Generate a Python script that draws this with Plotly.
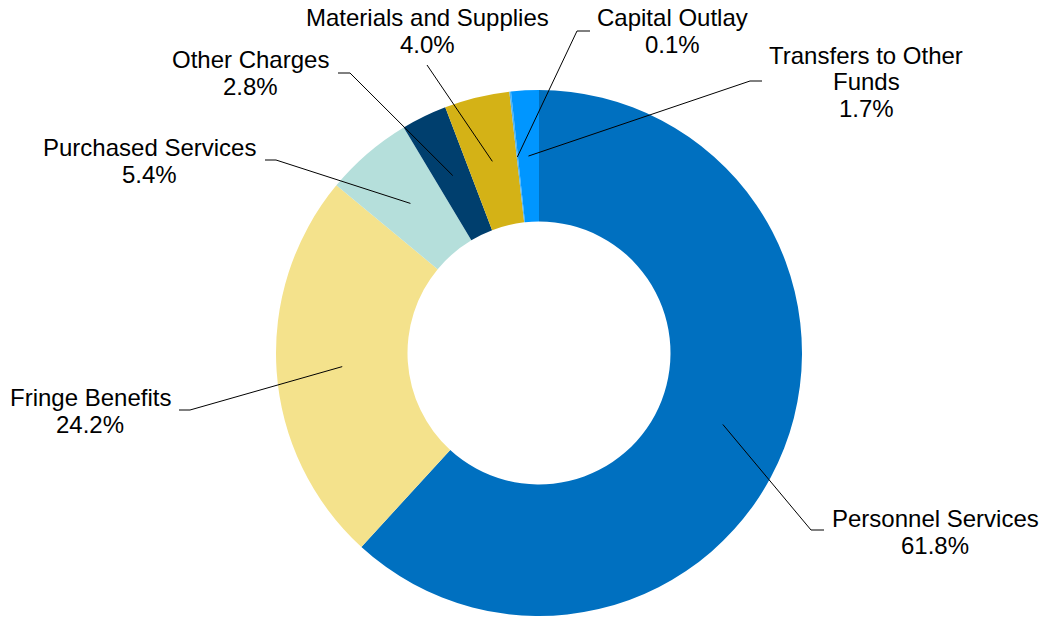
import math
import plotly.graph_objects as go

# Budget share by expenditure category (percent of total)
categories = [
    "Personnel Services",
    "Fringe Benefits",
    "Purchased Services",
    "Other Charges",
    "Materials and Supplies",
    "Capital Outlay",
    "Transfers to Other Funds",
]
shares = [61.8, 24.2, 5.4, 2.8, 4.0, 0.1, 1.7]
colors = ["#0070C0", "#F4E28C", "#B5DFDB", "#003F6E", "#D4B216", "#4FB3F0", "#0096FF"]

# Label text lines (category names wrap where needed)
label_lines = [
    ["Personnel Services"],
    ["Fringe Benefits"],
    ["Purchased Services"],
    ["Other Charges"],
    ["Materials and Supplies"],
    ["Capital Outlay"],
    ["Transfers to Other", "Funds"],
]

W, H = 1042, 618
CX, CY, R = 539, 353, 263
HOLE = 0.5
FONT_SIZE = 24
LINE_STEP = 27

# Label placement (pixel centre x, first-line centre y) and leader-line elbow/end points
label_pos = [(935, 518), (90, 397), (149, 147), (250, 60), (427, 18), (672, 18), (866, 55)]
elbows = [
    [(811, 530), (824, 530)],
    [(190, 410), (179, 410)],
    [(276, 160), (265, 160)],
    [(350, 73), (338, 73)],
    [(427, 65), (427, 65)],
    [(577, 31), (590, 31)],
    [(750, 81), (762, 81)],
]


def px(x):
    return x / W


def py(y):
    return 1 - y / H


fig = go.Figure(
    go.Pie(
        labels=categories,
        values=shares,
        hole=HOLE,
        sort=False,
        direction="clockwise",
        rotation=0,
        marker=dict(colors=colors, line=dict(width=0)),
        textinfo="none",
        hoverinfo="label+percent",
        showlegend=False,
        domain=dict(x=[px(CX - R), px(CX + R)], y=[py(CY + R), py(CY - R)]),
    )
)

shapes = []
annotations = []
total = sum(shares)
cum = 0.0
r_mid = R * (1 + HOLE) / 2
font = dict(family="Liberation Sans, Arial, sans-serif", size=FONT_SIZE, color="black")
for i, v in enumerate(shares):
    mid = (cum + v / 2) / total
    cum += v
    ang = 2 * math.pi * mid  # clockwise from 12 o'clock
    sx = CX + r_mid * math.sin(ang)
    sy = CY - r_mid * math.cos(ang)
    (ex, ey), (fx, fy) = elbows[i]
    path = f"M {px(sx)} {py(sy)} L {px(ex)} {py(ey)} L {px(fx)} {py(fy)}"
    shapes.append(dict(type="path", xref="paper", yref="paper", path=path,
                       line=dict(color="black", width=1)))
    lx, ly = label_pos[i]
    lines = label_lines[i] + [f"{v:.1f}%"]
    for k, txt in enumerate(lines):
        annotations.append(dict(
            x=px(lx), y=py(ly + k * LINE_STEP), xref="paper", yref="paper",
            text=txt, showarrow=False, xanchor="center", yanchor="middle",
            align="center", font=font,
        ))

fig.update_layout(
    width=W, height=H,
    margin=dict(l=0, r=0, t=0, b=0),
    paper_bgcolor="white",
    plot_bgcolor="white",
    shapes=shapes,
    annotations=annotations,
)

fig.write_html("out.html")
